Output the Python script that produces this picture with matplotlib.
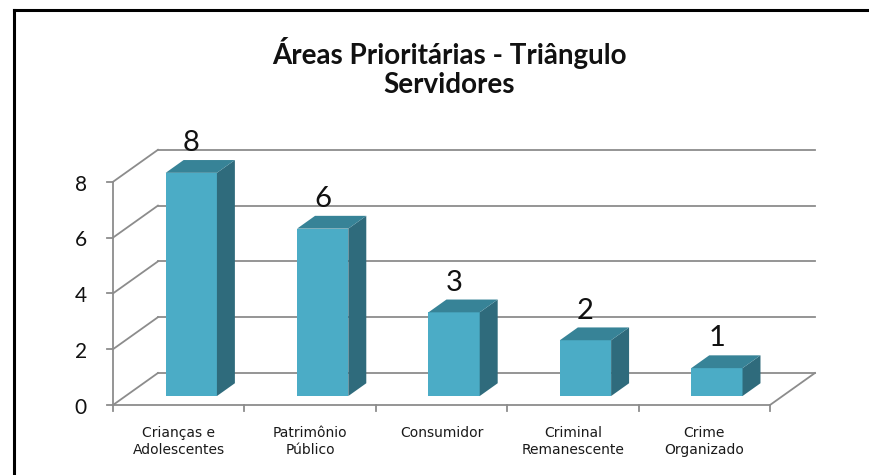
"""Áreas Prioritárias - Triângulo / Servidores: pseudo-3D column chart."""

import matplotlib

matplotlib.use("Agg")
import matplotlib.pyplot as plt
from matplotlib.lines import Line2D
from matplotlib.patches import Polygon, Rectangle

categories = [
    "Crianças e\nAdolescentes",
    "Patrimônio\nPúblico",
    "Consumidor",
    "Criminal\nRemanescente",
    "Crime\nOrganizado",
]
values = [8, 6, 3, 2, 1]
yticks = [0, 2, 4, 6, 8]
title = "Áreas Prioritárias - Triângulo\nServidores"

FRONT = "#4bacc6"
SIDE = "#2f6b7c"
TOP = "#378397"
GRID = "#8c8c8c"

# oblique depth of the plot box (category units, value units)
DX, DY = 0.342, 1.147
FD, BD = 0.28, 0.68  # front/back depth fraction of the bars
WIDTH = 0.39

fig = plt.figure(figsize=(8.7, 4.75), dpi=100)
ax = fig.add_axes([0, 0, 1, 1])
ax.set_xlim(-0.86, 5.761)
ax.set_ylim(-2.509, 14.516)
ax.axis("off")

n = len(categories)
ytop = yticks[-1]

# back wall + left wall gridlines
for v in yticks:
    ax.plot([0, DX], [v, v + DY], color=GRID, lw=1.3, zorder=1)
    ax.plot([DX, n + DX], [v + DY, v + DY], color=GRID, lw=1.3, zorder=1)
    ax.plot([-0.046, 0], [v, v], color=GRID, lw=1.3, zorder=1)
    ax.text(-0.2, v - 0.1, str(v), ha="right", va="center", fontsize=15,
            family="Lato", color="#111111")

# floor front edge, right edge, y axis
ax.plot([0, n], [0, 0], color=GRID, lw=1.3, zorder=1)
ax.plot([n, n + DX], [0, DY], color=GRID, lw=1.3, zorder=1)
ax.plot([0, 0], [0, ytop], color=GRID, lw=1.3, zorder=1)
for i in range(n + 1):
    ax.plot([i, i], [0, -0.215], color=GRID, lw=1.3, zorder=1)

for i, (cat, v) in enumerate(zip(categories, values)):
    x0 = i + 0.5 - WIDTH / 2 + FD * DX
    y0 = FD * DY
    ddx, ddy = (BD - FD) * DX, (BD - FD) * DY
    ax.add_patch(Rectangle((x0, y0), WIDTH, v, facecolor=FRONT,
                           edgecolor="none", zorder=3))
    ax.add_patch(Polygon([(x0 + WIDTH, y0), (x0 + WIDTH + ddx, y0 + ddy),
                          (x0 + WIDTH + ddx, y0 + ddy + v),
                          (x0 + WIDTH, y0 + v)],
                         facecolor=SIDE, edgecolor="none", zorder=3))
    ax.add_patch(Polygon([(x0, y0 + v), (x0 + WIDTH, y0 + v),
                          (x0 + WIDTH + ddx, y0 + ddy + v),
                          (x0 + ddx, y0 + ddy + v)],
                         facecolor=TOP, edgecolor="none", zorder=3))
    ax.text(x0 + WIDTH / 2, y0 + ddy + v + 0.32, str(v), ha="center",
            va="baseline", fontsize=21, family="Lato", color="#111111",
            zorder=4)
    ax.text(i + 0.5, -0.75, cat, ha="center", va="top", fontsize=10,
            family="DejaVu Sans", linespacing=1.25, color="#1a1a1a")

fig.text(0.516, 0.922, title, ha="center", va="top", fontsize=20,
         family="Lato", fontweight="bold", linespacing=1.12,
         multialignment="center", color="#111111")

# outer frame (left and top edges only visible)
fig.add_artist(Line2D([14 / 870, 14 / 870], [0, 1 - 10 / 475],
                      transform=fig.transFigure, color="black", lw=2.2))
fig.add_artist(Line2D([14 / 870, 1], [1 - 10 / 475, 1 - 10 / 475],
                      transform=fig.transFigure, color="black", lw=2.2))

fig.savefig("out.png", dpi=100)
